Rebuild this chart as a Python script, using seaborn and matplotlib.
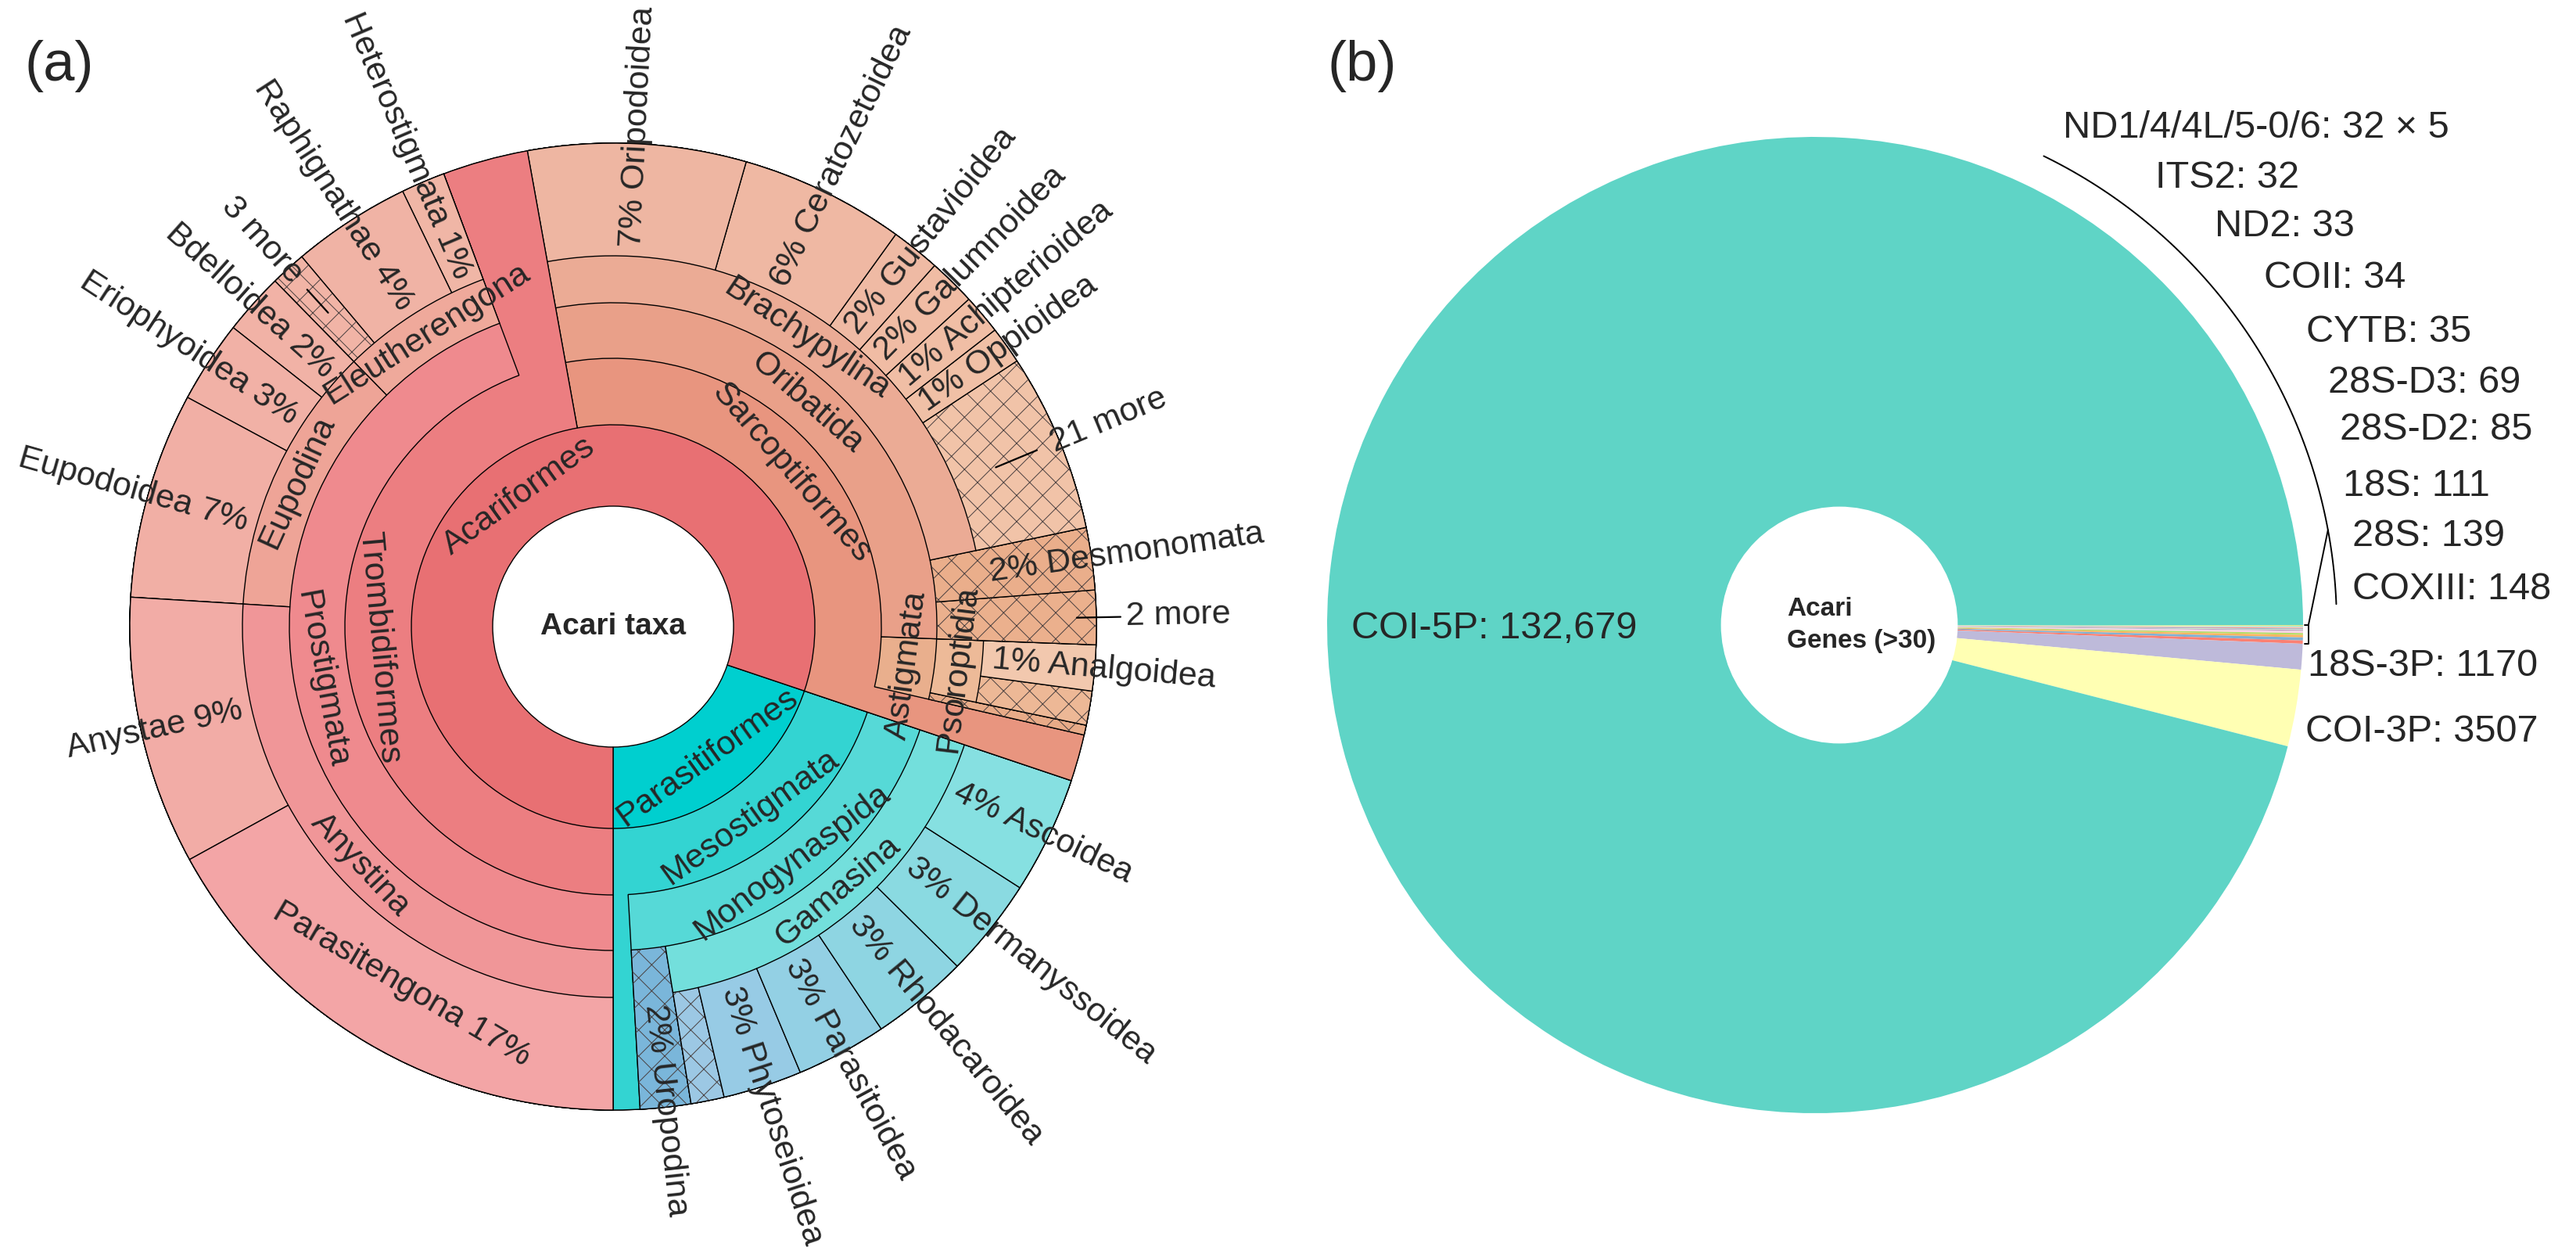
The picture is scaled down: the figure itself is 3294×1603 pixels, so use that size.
import numpy as np
import matplotlib
matplotlib.use('Agg')
import matplotlib.pyplot as plt
import seaborn as sns

## DATA
# (a) Acari taxa, Krona style: share = % of records kept at that rank (not passed to a child)
taxa = ['Parasitiformes', 'Mesostigmata', 'Monogynaspida', 'Uropodina', 'Gamasina', '',
        'Phytoseioidea', 'Parasitoidea', 'Rhodacaroidea', 'Dermanyssoidea', 'Ascoidea',
        'Acariformes', 'Sarcoptiformes', 'Astigmata', '', 'Psoroptidia', '', 'Analgoidea',
        'Oribatida', '2 more', 'Desmonomata', 'Brachypylina', '21 more', 'Oppioidea',
        'Achipterioidea', 'Galumnoidea', 'Gustavioidea', 'Ceratozetoidea', 'Oripodoidea',
        'Trombidiformes', 'Prostigmata', 'Eleutherengona', 'Heterostigmata', 'Raphignathae',
        '3 more', 'Eupodina', 'Bdelloidea', 'Eriophyoidea', 'Eupodoidea', 'Anystina',
        'Anystae', 'Parasitengona']
parent = ['', 'Parasitiformes', 'Mesostigmata', 'Monogynaspida', 'Monogynaspida', 'Gamasina',
          'Gamasina', 'Gamasina', 'Gamasina', 'Gamasina', 'Gamasina',
          '', 'Acariformes', 'Sarcoptiformes', 'Astigmata', 'Astigmata', 'Psoroptidia', 'Psoroptidia',
          'Sarcoptiformes', 'Oribatida', 'Oribatida', 'Oribatida', 'Brachypylina', 'Brachypylina',
          'Brachypylina', 'Brachypylina', 'Brachypylina', 'Brachypylina', 'Brachypylina',
          'Acariformes', 'Trombidiformes', 'Prostigmata', 'Eleutherengona', 'Eleutherengona',
          'Eleutherengona', 'Prostigmata', 'Eupodina', 'Eupodina', 'Eupodina', 'Prostigmata',
          'Anystina', 'Anystina']
share = [0, 0.89, 0, 1.69, 0, 1.11, 2.64, 3.03, 3.25, 3.31, 3.92,
         0, 1.56, 0, 0.33, 0, 1.14, 1.53,
         0, 1.81, 2.08, 0, 5.97, 1.25, 1.33, 1.58, 1.64, 5.50, 7.28,
         2.86, 0, 0, 1.47, 3.97, 1.19, 0, 2.06, 2.75, 6.89, 0, 8.97, 17.0]
pct = [None, None, None, 2, None, None, 3, 3, 3, 3, 4,
       None, None, None, None, None, None, 1,
       None, None, 2, None, None, 1, 1, 2, 2, 6, 7,
       None, None, None, 1, 4, None, None, 2, 3, 7, None, 9, 17]
collapsed = [False, False, False, True, False, True, False, False, False, False, False,
             False, False, False, True, False, True, False,
             False, True, True, False, True, False, False, False, False, False, False,
             False, False, False, False, False, True, False, False, False, False, False,
             False, False]
taxa_colors = ['#00cfcf', '#33d4d2', '#56d9d7', '#7ab6da', '#73dfdc', '#9cc8e4',
               '#97cbe5', '#93d0e4', '#8ed5e2', '#8adae1', '#86e0e1',
               '#e87073', '#e8957f', '#e9af8d', '#e8ab88', '#edba98', '#edb896', '#f2c8ae',
               '#e9a089', '#ebb08d', '#eaae8b', '#ebab95', '#f1c3a8', '#f0c0a6',
               '#f0bea5', '#f0bca4', '#efbaa4', '#efb8a3', '#eeb6a2',
               '#ec7e81', '#ef8a8e', '#efa99b', '#f0b6a6', '#f0b3a5',
               '#f1b4a6', '#eea497', '#f1b2a6', '#f1b1a6', '#f1afa5', '#f09698',
               '#f2aca6', '#f3a5a6']

# (b) Acari genes with more than 30 records
genes = ['ND1', 'ND4', 'ND4L', 'ND5-0', 'ND6', 'ITS2', 'ND2', 'COII', 'CYTB',
         '28S-D3', '28S-D2', '18S', '28S', 'COXIII', '18S-3P', 'COI-3P', 'COI-5P']
gene_counts = [32, 32, 32, 32, 32, 32, 33, 34, 35, 69, 85, 111, 139, 148, 1170, 3507, 132679]

## STYLE
sns.set_theme(style='white')
plt.rcParams['font.family'] = ['Liberation Sans', 'DejaVu Sans']
plt.rcParams['hatch.linewidth'] = 0.35

W, H = 3294, 1603
fig = plt.figure(figsize=(W / 200, H / 200), dpi=200)


def box(cx, cy, r):
    # pixel centre + radius -> figure rect
    return [(cx - r) / W, 1 - (cy + r) / H, 2 * r / W, 2 * r / H]


## (a) SUNBURST
CX, CY, R_OUT = 784, 801, 618
rings = [154, 258, 343, 414, 474]
LEAF_R = 486
more_lead = {'3 more': (542, 582, 600), '21 more': (530, 587, 607), '2 more': (593, 649, 656)}
FS = 15.5

ax = fig.add_axes(box(CX, CY, R_OUT), projection='polar')

n = len(taxa)
pos = {t: i for i, t in enumerate(taxa) if t}
kids = [[] for _ in range(n)]
tops = []
for i, p in enumerate(parent):
    (kids[pos[p]] if p else tops).append(i)

scale = 360 / sum(share)
span = np.zeros(n)
start = np.zeros(n)
depth = np.zeros(n, dtype=int)


def size(i):
    span[i] = share[i] * scale + sum(size(k) for k in kids[i])
    return span[i]


def place(i, a, d):
    start[i], depth[i] = a, d
    a += share[i] * scale
    for k in kids[i]:
        place(k, a, d + 1)
        a += span[k]


a = -90.0
for t in tops:
    size(t)
    place(t, a, 0)
    a += span[t]

for i in range(n):
    d = depth[i]
    th = np.deg2rad(start[i] + span[i] / 2)
    ax.bar(th, R_OUT - rings[d], width=np.deg2rad(span[i]), bottom=rings[d],
           color=taxa_colors[i], edgecolor='black', linewidth=0.5, clip_on=False)
    if collapsed[i]:
        # fine "n more" texture on top, edges kept from the filled bar
        ax.bar(th, R_OUT - rings[d], width=np.deg2rad(span[i]), bottom=rings[d],
               facecolor='none', edgecolor='#4a4040', linewidth=0, hatch='xx', clip_on=False)

for i in range(n):
    mid = start[i] + span[i] / 2
    th = np.deg2rad(mid)
    right = np.cos(th) >= 0
    d = depth[i]
    tang_rot = mid - 90 if (mid % 360) < 180 else mid + 90
    if kids[i]:
        ax.text(th, (rings[d] + rings[d + 1]) / 2, taxa[i], rotation=tang_rot,
                rotation_mode='anchor', ha='center', va='center', fontsize=FS)
    elif pct[i] is not None:
        if span[i] > 45:
            ax.text(th, (rings[-1] + R_OUT) / 2 - 15, f'{taxa[i]} {pct[i]}%', rotation=tang_rot,
                    rotation_mode='anchor', ha='center', va='center', fontsize=FS)
        else:
            txt = f'{pct[i]}% {taxa[i]}' if right else f'{taxa[i]} {pct[i]}%'
            ax.text(th, LEAF_R, txt, rotation=mid if right else mid - 180,
                    rotation_mode='anchor', ha='left' if right else 'right',
                    va='center', fontsize=FS)
    elif taxa[i]:
        r0, r1, rt = more_lead[taxa[i]]
        ax.plot([th, th], [r0, r1], color='black', lw=0.8, clip_on=False)
        ax.text(th, rt, taxa[i], rotation=mid if right else mid - 180,
                rotation_mode='anchor', ha='left' if right else 'right',
                va='center', fontsize=FS)

ax.set_ylim(0, R_OUT)
ax.set_axis_off()
fig.text(CX / W, 1 - CY / H, 'Acari taxa', ha='center', va='center',
         fontsize=14, fontweight='bold')

## (b) PIE
PCX, PCY, PR = 2321, 799, 624
ax2 = fig.add_axes(box(PCX, PCY, PR))
pal = sns.color_palette('Set3', 12).as_hex()
pal[0] = '#5fd4c6'
rank = np.argsort(-np.array(gene_counts), kind='stable')
gene_colors = [None] * len(genes)
for r, g in enumerate(rank):
    gene_colors[g] = pal[r % 12]

ax2.pie(gene_counts, colors=gene_colors, startangle=0, counterclock=False, radius=1,
        wedgeprops=dict(linewidth=0))
ax2.set_xlim(-1, 1)
ax2.set_ylim(-1, 1)
ax2.add_patch(plt.Circle(((2352 - PCX) / PR, 0), 150 / PR, color='white', zorder=3))
fig.text(2285 / W, 1 - 799 / H, 'Acari\nGenes (>30)', ha='left', va='center',
         fontsize=12, fontweight='bold', linespacing=1.4)

total = sum(gene_counts)
ax2.text((1911 - PCX) / PR, (PCY - 804) / PR, f'{genes[-1]}: {gene_counts[-1]:,}',
         ha='center', va='center', fontsize=17.5)

n_nd = 5
gene_labels = [f"ND{'/'.join(g[2:] for g in genes[:n_nd])}: {gene_counts[0]} \u00d7 {n_nd}"]
gene_labels += [f'{g}: {c}' for g, c in zip(genes[n_nd:-1], gene_counts[n_nd:-1])]
label_xy = [(2638, 163), (2756, 227), (2832, 289), (2895, 355), (2949, 424),
            (2977, 489), (2992, 549), (2996, 621), (3008, 686), (3008, 754),
            (2951, 852), (2948, 935)]
for txt, (x, y) in zip(gene_labels, label_xy):
    fig.text(x / W, 1 - y / H, txt, ha='left', va='center', fontsize=17.5)

# leader arc + bracket for the tiny slices (ND ... COXIII)
small = sum(gene_counts[:14]) / total * 360
ra = 667 / PR
t = np.deg2rad(np.linspace(64, 2.3, 120))
ax2.plot(ra * np.cos(t), ra * np.sin(t), color='black', lw=0.7, clip_on=False)
xb = 1.011
yb = -np.sin(np.deg2rad(small))
ax2.plot([xb - 0.008, xb, xb, xb - 0.008], [0, 0, yb, yb], color='black', lw=0.7, clip_on=False)
tl = np.deg2rad(10.5)
ax2.plot([xb, ra * np.cos(tl)], [0, ra * np.sin(tl)], color='black', lw=0.7, clip_on=False)

fig.text(32 / W, 1 - 84 / H, '(a)', ha='left', va='center', fontsize=26)
fig.text(1697 / W, 1 - 84 / H, '(b)', ha='left', va='center', fontsize=26)

fig.savefig('out.png', dpi=200)
